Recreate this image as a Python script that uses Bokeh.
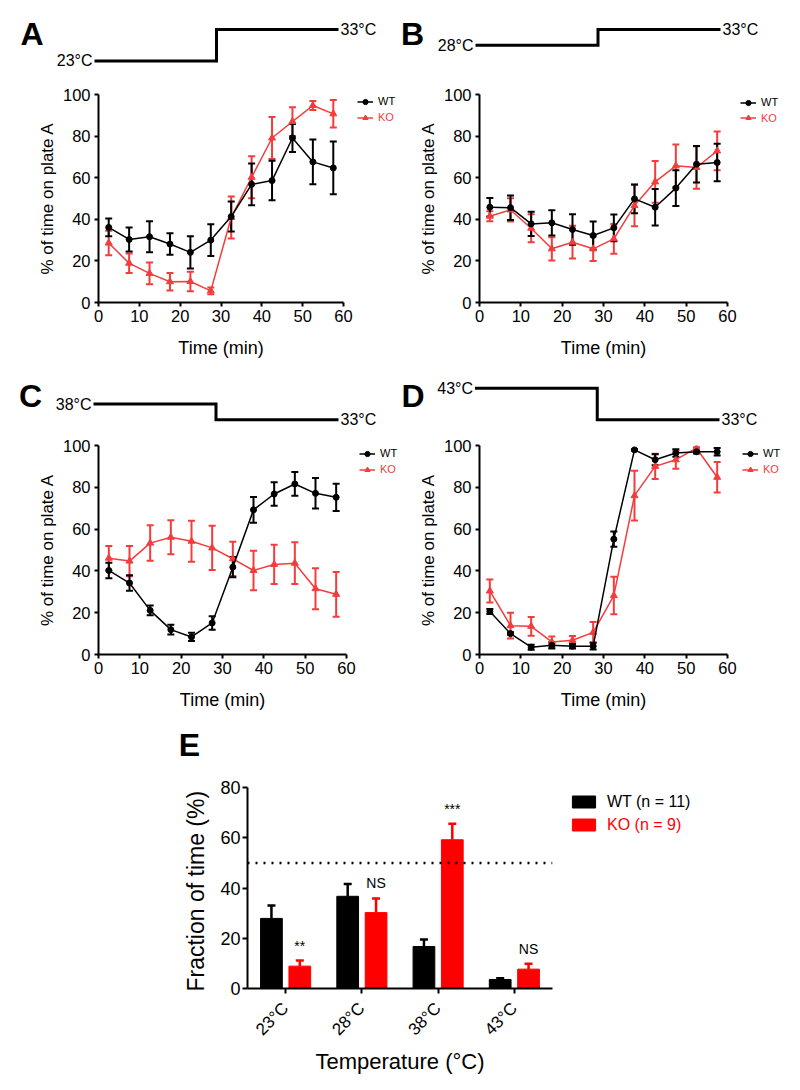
import math
from bokeh.plotting import figure
from bokeh.layouts import column, row
from bokeh.models import (Range1d, FixedTicker, Whisker, TeeHead, ColumnDataSource,
                          Legend, LegendItem, Span, FactorRange)
from bokeh.transform import dodge
from bokeh.core.properties import value
from bokeh.embed import file_html
from bokeh.resources import INLINE

FONT = "Liberation Sans"
RED_LINE = "#f43c3c"
RED_BAR = "#ff0000"

# ---------------- data ----------------
times = [2.5, 7.5, 12.5, 17.5, 22.5, 27.5, 32.5, 37.5, 42.5, 47.5, 52.5, 57.5]

a_wt = [36.1, 30.3, 31.6, 28.1, 24.1, 30.0, 41.3, 56.8, 58.6, 79.1, 67.6, 64.7]
a_wt_err = [4.3, 5.8, 7.5, 5.2, 7.7, 7.6, 7.2, 10.0, 9.5, 6.7, 10.8, 12.7]
a_ko = [28.6, 18.9, 14.0, 10.0, 10.1, 5.6, 40.9, 60.2, 79.1, 87.0, 94.7, 90.7]
a_ko_err = [5.9, 4.7, 5.2, 4.2, 4.7, 1.6, 10.1, 10.1, 10.1, 6.9, 2.2, 6.6]

b_wt = [45.8, 45.6, 37.8, 38.3, 35.1, 32.2, 35.9, 49.8, 45.8, 55.0, 66.5, 67.3]
b_wt_err = [4.5, 5.9, 5.8, 6.1, 7.3, 6.7, 6.4, 6.9, 8.8, 8.6, 8.8, 9.0]
b_ko = [41.5, 44.5, 35.7, 25.8, 29.0, 25.8, 30.6, 46.6, 58.0, 65.7, 64.9, 72.9]
b_ko_err = [2.4, 5.6, 6.7, 5.6, 7.9, 5.9, 7.2, 10.0, 10.0, 10.3, 10.2, 9.3]

c_wt = [40.2, 34.2, 21.1, 11.9, 8.4, 15.1, 41.8, 69.2, 76.8, 81.6, 77.1, 75.2]
c_wt_err = [3.7, 3.7, 2.3, 2.3, 2.0, 3.2, 4.8, 6.2, 5.6, 5.7, 7.3, 6.5]
c_ko = [46.1, 44.7, 53.3, 56.1, 54.2, 51.0, 45.8, 40.2, 43.1, 43.7, 31.5, 28.8]
c_ko_err = [5.8, 7.2, 8.5, 8.1, 9.8, 10.6, 8.2, 9.5, 9.4, 10.0, 9.8, 10.7]

d_wt = [20.6, 10.0, 3.5, 4.4, 4.0, 4.0, 55.2, 97.9, 93.2, 96.4, 97.0, 97.0]
d_wt_err = [1.2, 0.6, 1.2, 1.5, 1.1, 1.6, 3.7, 0.3, 2.6, 1.8, 0.8, 1.8]
d_ko = [30.4, 13.8, 13.5, 6.0, 6.8, 10.6, 28.2, 76.0, 90.0, 93.2, 98.7, 84.8]
d_ko_err = [5.5, 6.2, 4.5, 2.6, 2.0, 4.9, 9.0, 11.9, 6.0, 4.3, 0.5, 7.3]

step_times = [0, 30, 30, 60]
a_temps = [23, 23, 33, 33]
b_temps = [28, 28, 33, 33]
c_temps = [38, 38, 33, 33]
d_temps = [43, 43, 33, 33]

e_temps = ["23°C", "28°C", "38°C", "43°C"]
e_wt = [27.9, 36.7, 16.7, 3.6]
e_wt_err = [5.1, 4.9, 2.8, 0.5]
e_ko = [8.9, 30.2, 59.2, 7.7]
e_ko_err = [2.2, 5.6, 6.4, 2.2]
e_sig = ["**", "NS", "***", "NS"]
chance_level = 50

# legend-only figures use a unit range; their sample renderers sit outside it
UNIT = Range1d(0, 1)
OFFSCREEN = [5.0]


def bare(p):
    p.outline_line_color = None
    p.grid.visible = False
    p.background_fill_color = None
    p.border_fill_color = None


def blank_fig(w, h, xr, yr, top=0, bottom=0):
    p = figure(width=w, height=h, x_range=xr, y_range=yr,
               min_border_left=0, min_border_right=0,
               min_border_top=top, min_border_bottom=bottom,
               x_axis_location=None, y_axis_location=None,
               output_backend="svg", toolbar_location=None)
    bare(p)
    return p


def style_axis(ax, tick_size, title_size, label_standoff, title_standoff, tick_out=4):
    ax.axis_line_width = 2
    ax.axis_line_color = "black"
    ax.major_tick_line_width = 2
    ax.major_tick_line_color = "black"
    ax.major_tick_out = tick_out
    ax.major_tick_in = 0
    ax.minor_tick_line_color = None
    ax.major_label_text_font = FONT
    ax.major_label_text_font_size = tick_size
    ax.major_label_text_color = "black"
    ax.major_label_standoff = label_standoff
    ax.axis_label_text_font = FONT
    ax.axis_label_text_font_size = title_size
    ax.axis_label_text_font_style = "normal"
    ax.axis_label_text_color = "black"
    ax.axis_label_standoff = title_standoff


def step_fig(temps, letter, w, h, x0px, pxmin, ytop, pxdeg, letter_x, letter_y):
    p = blank_fig(w, h, Range1d(-x0px / pxmin, (w - x0px) / pxmin),
                  Range1d(ytop - h / pxdeg, ytop))
    p.line(step_times, temps, line_width=3, line_color="black", line_join="miter")
    p.text(x=[step_times[0]], y=[temps[0]], text=[f"{temps[0]}°C"], x_offset=-2,
           text_align="right", text_baseline="middle", text_font=value(FONT),
           text_font_size="16px", text_color="black")
    p.text(x=[step_times[-1]], y=[temps[-1]], text=[f"{temps[-1]}°C"], x_offset=2,
           text_align="left", text_baseline="middle", text_font=value(FONT),
           text_font_size="16px", text_color="black")
    p.text(x=[(letter_x - x0px) / pxmin], y=[ytop - letter_y / pxdeg], text=[letter],
           text_align="center", text_baseline="middle", text_font=value(FONT),
           text_font_style="bold", text_font_size="32px", text_color="black")
    return p


def panel(wt, wte, ko, koe, w, h, left, frame_w, top, frame_h):
    p = figure(width=w, height=h, x_range=Range1d(0, 60), y_range=Range1d(0, 100),
               min_border_left=left, min_border_right=w - left - frame_w,
               min_border_top=top, min_border_bottom=h - top - frame_h,
               output_backend="svg", toolbar_location=None)
    bare(p)
    p.xaxis.ticker = FixedTicker(ticks=[0, 10, 20, 30, 40, 50, 60])
    p.yaxis.ticker = FixedTicker(ticks=[0, 20, 40, 60, 80, 100])
    p.xaxis.axis_label = "Time (min)"
    p.yaxis.axis_label = "% of time on plate A"
    style_axis(p.xaxis[0], "16.5px", "18px", 3, 13)
    style_axis(p.yaxis[0], "16.5px", "17px", 4, 3)
    for vals, errs, col, marker, msize in (
            (ko, koe, RED_LINE, "triangle", 7),
            (wt, wte, "black", "circle", 6)):
        src = ColumnDataSource(dict(x=times, y=vals,
                                    lo=[v - e for v, e in zip(vals, errs)],
                                    hi=[v + e for v, e in zip(vals, errs)]))
        p.add_layout(Whisker(source=src, base="x", lower="lo", upper="hi", line_color=col,
                             line_width=2,
                             upper_head=TeeHead(size=7, line_color=col, line_width=2),
                             lower_head=TeeHead(size=7, line_color=col, line_width=2)))
        p.line("x", "y", source=src, line_color=col, line_width=1.5)
        p.scatter("x", "y", source=src, marker=marker, size=msize,
                  fill_color=col, line_color=col)
    return p


def line_legend(w, h, top, frame_h, vx, wt_ctr, ko_ctr):
    """WT / KO legend in a narrow figure right of a panel (same top/bottom borders
    as the panel); *_ctr are item centres in px from the figure top."""
    p = blank_fig(w, h, UNIT, UNIT, top=top, bottom=h - top - frame_h)
    for name, col, marker, ctr in (("WT", "black", "circle", wt_ctr),
                                   ("KO", RED_LINE, "triangle", ko_ctr)):
        ln = p.line(x=OFFSCREEN, y=OFFSCREEN, line_color=col, line_width=1.5)
        pts = p.scatter(x=OFFSCREEN, y=OFFSCREEN, marker=marker, size=6,
                        fill_color=col, line_color=col)
        leg = Legend(items=[LegendItem(label=name, renderers=[ln, pts])],
                     location=(vx, frame_h - (ctr - top) - 6.5),
                     padding=0, margin=0, spacing=0,
                     glyph_width=16, glyph_height=13, label_height=13, label_standoff=5,
                     label_text_font=FONT, label_text_font_size="11px",
                     label_text_color=col, border_line_color=None,
                     background_fill_alpha=0)
        p.add_layout(leg)
    return p


# ---------------- panels A-D ----------------
LEFT_W, RIGHT_W = 398, 400
stepA = step_fig(a_temps, "A", LEFT_W, 80, 94, 244 / 60, 42.22, 3.144, 31.5, 33.5)
stepB = step_fig(b_temps, "B", RIGHT_W, 80, 77, 245 / 60, 42.22, 3.144, 14, 33.5)
stepC = step_fig(c_temps, "C", LEFT_W, 62, 93, 245 / 60, 48.02, 3.15, 30, 23.5)
stepD = step_fig(d_temps, "D", RIGHT_W, 62, 76.5, 244.5 / 60, 48.02, 3.15, 14.5, 23.5)

pA = panel(a_wt, a_wt_err, a_ko, a_ko_err, 354, 292, 98, 245, 14, 208)
legA = line_legend(LEFT_W - 354, 292, 14, 208, 3, 21, 37.3)
pB = panel(b_wt, b_wt_err, b_ko, b_ko_err, 340, 292, 81, 248, 14, 208)
legB = line_legend(RIGHT_W - 340, 292, 14, 208, 2, 22.3, 37.7)
pC = panel(c_wt, c_wt_err, c_ko, c_ko_err, 357, 291, 98, 248, 11, 209)
legC = line_legend(LEFT_W - 357, 291, 11, 209, 2, 19, 35)
pD = panel(d_wt, d_wt_err, d_ko, d_ko_err, 340, 291, 81, 248, 11, 209)
legD = line_legend(RIGHT_W - 340, 291, 11, 209, 4, 19.3, 35)

# ---------------- panel E ----------------
eLetter = blank_fig(798, 40, UNIT, UNIT)
eLetter.text(x=[189 / 798], y=[1 - 19 / 40], text=["E"], text_align="center",
             text_baseline="middle", text_font=value(FONT), text_font_style="bold",
             text_font_size="32px", text_color="black")

E_W, E_H = 560, 323
E_LEFT, E_FW, E_TOP, E_FH = 247, 305, 22, 201
pE = figure(width=E_W, height=E_H, x_range=FactorRange(*e_temps), y_range=Range1d(0, 80),
            min_border_left=E_LEFT, min_border_right=E_W - E_LEFT - E_FW,
            min_border_top=E_TOP, min_border_bottom=E_H - E_TOP - E_FH,
            output_backend="svg", toolbar_location=None)
bare(pE)
pE.yaxis.ticker = FixedTicker(ticks=[0, 20, 40, 60, 80])
pE.yaxis.axis_label = "Fraction of time  (%)"
pE.xaxis.axis_label = "Temperature (°C)"
style_axis(pE.yaxis[0], "18px", "23px", 2, 8, tick_out=5)
style_axis(pE.xaxis[0], "17px", "22px", 12, 0, tick_out=5)
pE.xaxis.major_label_orientation = math.pi / 4

src_e = ColumnDataSource(dict(
    t=e_temps, wt=e_wt, ko=e_ko,
    wt_hi=[v + e for v, e in zip(e_wt, e_wt_err)],
    ko_hi=[v + e for v, e in zip(e_ko, e_ko_err)],
    sig=e_sig,
    sig_y=[v + e + 6 for v, e in zip(e_ko, e_ko_err)],
))
OFF, BW = 0.186, 0.285
pE.vbar(x=dodge("t", -OFF, range=pE.x_range), top="wt", width=BW, source=src_e,
        fill_color="black", line_color="black")
pE.vbar(x=dodge("t", OFF, range=pE.x_range), top="ko", width=BW, source=src_e,
        fill_color=RED_BAR, line_color=RED_BAR)
for off, lo, hi, col in ((-OFF, "wt", "wt_hi", "black"), (OFF, "ko", "ko_hi", RED_BAR)):
    pE.add_layout(Whisker(source=src_e, base=dodge("t", off, range=pE.x_range),
                          lower=lo, upper=hi, line_color=col, line_width=2.5,
                          lower_head=None,
                          upper_head=TeeHead(size=8, line_color=col, line_width=2.5)))
pE.text(x=dodge("t", OFF, range=pE.x_range), y="sig_y", text="sig", source=src_e,
        text_align="center", text_baseline="middle", text_font=value(FONT),
        text_font_size="14px", text_color="black")
pE.add_layout(Span(location=chance_level, dimension="width", line_color="black",
                   line_width=2.5, line_dash="2 6"))

legE = blank_fig(238, E_H, UNIT, UNIT, top=E_TOP, bottom=E_H - E_TOP - E_FH)
for name, col, ctr in (("WT (n = 11)", "black", 36.7), ("KO (n = 9)", RED_BAR, 59.3)):
    r = legE.vbar(x=OFFSCREEN, top=OFFSCREEN, bottom=OFFSCREEN, width=0.5,
                  fill_color=col, line_color=col)
    leg = Legend(items=[LegendItem(label=name, renderers=[r])],
                 location=(9, E_FH - (ctr - E_TOP) - 9.2), padding=0, margin=0, spacing=0,
                 glyph_width=29, glyph_height=15, label_height=15, label_standoff=9,
                 label_text_font=FONT, label_text_font_size="16px",
                 label_text_color=col, border_line_color=None, background_fill_alpha=0)
    legE.add_layout(leg)

layout = column(
    row(stepA, stepB),
    row(pA, legA, pB, legB),
    row(stepC, stepD),
    row(pC, legC, pD, legD),
    eLetter,
    row(pE, legE),
)

with open("out.html", "w") as f:
    f.write(file_html(layout, INLINE))
